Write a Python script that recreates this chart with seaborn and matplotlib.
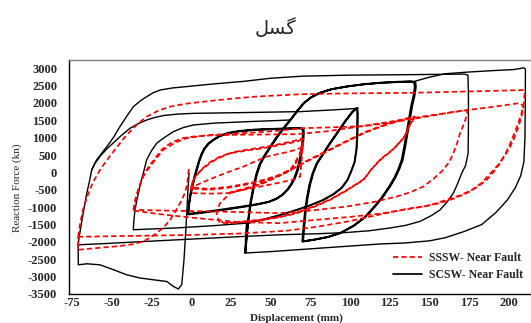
import numpy as np
import pandas as pd
import matplotlib
matplotlib.use("Agg")
import matplotlib.pyplot as plt
import seaborn as sns
from matplotlib.lines import Line2D
from matplotlib.font_manager import FontProperties

sns.set_theme(style="white")
plt.rcParams['font.family'] = ['Liberation Serif', 'DejaVu Sans']

# ---------------- text ----------------
TITLE = "\uFEDE\uFEB4\uFB94"   # گسل (presentation forms, visual order)
SSSW = "SSSW- Near Fault"
SCSW = "SCSW- Near Fault"
X_LABEL = "Displacement (mm)"
Y_LABEL = "Reaction Force (kn)"
X_TICKS = [-75, -50, -25, 0, 25, 50, 75, 100, 125, 150, 175, 200]
Y_TICKS = [-3500, -3000, -2500, -2000, -1500, -1000, -500, 0, 500, 1000, 1500, 2000, 2500, 3000]

# ---------------- SCSW (black) ----------------
scsw_pulse_disp = [-1.3, -2.1, -3.2, -4.5, -5.9, -8.0, -11.2, -15.3, -23.8, -32.2, -40.6, -49.0, -57.4, -65.7, -71.0, -71.2]
scsw_pulse_force = [-20, -590, -1560, -2515, -3230, -3357, -3282, -3140, -3090, -3040, -2946, -2800, -2660, -2630, -2660, -2080]

scsw_env1_disp = [-71.2, -70.3, -69.0, -67.3, -65.7, -64.0, -62.6, -61.0, -59.5, -56.5, -53.1, -49.0, -44.8, -40.5, -36.4,
                  -32.0, -28.0, -24.0, -19.6, -12.0, -4.0, 1.4, 15.0, 32.9, 50.0, 70.0, 100.0, 140.0, 172.0, 174.3,
                  174.6, 174.6, 174.4, 172.8, 170.4, 168.0, 165.1, 161.2, 156.7, 151.0, 144.1, 135.0, 125.2, 112.0,
                  97.8, 80.0, 55.7, 30.0, 0.0, -30.0, -55.0, -71.2]
scsw_env1_force = [-2080, -1800, -1450, -1000, -600, -250, 70, 230, 360, 540, 740, 1000, 1320, 1620, 1890,
                   2060, 2180, 2290, 2370, 2430, 2465, 2490, 2550, 2620, 2710, 2770, 2800, 2815, 2830, 2800,
                   2280, 1320, 550, 200, -20, -300, -600, -850, -1080, -1250, -1410, -1525, -1600, -1680,
                   -1730, -1765, -1795, -1850, -1920, -1990, -2050, -2084]

scsw_loop2_disp = [-36.4, -36.0, -35.3, -34.3, -33.2, -31.8, -30.1, -28.0, -25.0, -21.7, -17.0, -11.2, -5.0, 1.4,
                   15.0, 35.0, 55.0, 62.3]
scsw_loop2_force = [-1650, -1350, -1080, -820, -600, -300, -20, 360, 620, 840, 1000, 1173, 1290, 1365,
                    1420, 1460, 1495, 1509]

scsw_loop2b_disp = [-62.6, -60.5, -57.0, -53.0, -49.0, -44.0, -38.5, -33.0, -28.0, -23.0, -17.0, -8.0, 1.4, 30.0,
                    68.6, 90.0, 102.0, 104.3,
                    104.5, 104.4, 104.0, 102.8, 100.8, 98.2, 94.6, 89.5, 82.5, 74.5, 65.5, 55.5, 45.0, 35.0,
                    15.0, -10.0, -36.4]
scsw_loop2b_force = [70, 260, 480, 680, 850, 1060, 1270, 1410, 1509, 1580, 1640, 1680, 1700, 1720,
                     1750, 1800, 1835, 1844,
                     1780, 1200, 700, 300, 50, -220, -440, -620, -800, -950, -1090, -1230, -1360, -1460,
                     -1530, -1600, -1650]

scsw_loop3_disp = [-2.0, -1.3, -0.5, 0.6, 2.0, 3.5, 5.0, 6.6, 8.5, 11.0, 14.0, 18.0, 23.0, 30.0, 40.0, 52.0, 62.0, 68.6,
                   70.2, 70.4, 70.0, 69.2, 68.0, 66.6, 65.0, 63.0, 60.5, 57.5, 53.5, 48.5, 42.0, 34.0, 25.0, 16.0, 7.0, -1.8,
                   -1.4, -0.6, 0.5, 1.9, 3.4, 4.9, 6.5, 8.4, 11.0, 14.2, 18.3, 23.5, 30.5, 40.5, 52.5, 62.5, 69.0,
                   70.8, 71.0, 70.6, 69.8, 68.6, 67.2, 65.6, 63.6, 61.0, 58.0, 54.0, 49.0, 42.5, 34.5, 25.5, 16.5, 7.5, -1.5]
scsw_loop3_force = [-1200, -950, -700, -450, -200, 50, 300, 500, 680, 820, 930, 1040, 1120, 1180, 1220, 1245, 1258, 1265,
                    1245, 1120, 880, 600, 300, 50, -150, -330, -500, -640, -760, -850, -910, -970, -1030, -1090, -1145, -1190,
                    -900, -650, -400, -150, 100, 330, 530, 700, 840, 950, 1060, 1140, 1195, 1235, 1255, 1270, 1278,
                    1255, 1130, 890, 610, 310, 60, -140, -320, -490, -630, -755, -850, -915, -980, -1045, -1105, -1160, -1210]

scsw_loopxy_disp = [34.0, 34.8, 35.8, 37.2, 39.0, 41.0, 43.0, 46.0, 50.0, 54.0, 58.0, 62.3, 66.5, 70.7, 75.0, 81.0, 88.0,
                    98.0, 108.0, 119.0, 130.0, 138.0, 140.5,
                    140.8, 140.0, 138.5, 137.0, 135.5, 134.0, 132.5, 130.5, 128.0, 124.5, 120.0, 115.0, 109.0, 102.0,
                    94.0, 86.0, 77.0, 70.0,
                    70.5, 71.5, 72.8, 74.5, 76.5, 79.0, 82.5, 87.0, 92.0, 97.0, 101.0, 103.5, 104.5,
                    105.0, 104.8, 104.3, 103.0, 101.0, 98.5, 95.0, 90.0, 83.0, 75.0, 66.0, 56.0, 45.5, 38.0, 35.0, 34.4, 34.2,
                    35.0, 36.1, 37.6, 39.5, 41.6, 43.7, 46.8, 50.8, 54.8, 58.8, 63.0, 67.2, 71.4, 75.8, 81.8, 88.8,
                    98.8, 108.8, 119.8, 130.8, 138.8, 141.2,
                    141.5, 140.7, 139.2, 137.7, 136.2, 134.7, 133.2, 131.2, 128.7, 125.2, 120.7, 115.7, 109.7, 102.7,
                    94.7, 86.7, 77.7, 70.5,
                    71.0, 72.0, 73.3, 75.0, 77.0, 79.5, 83.0, 87.5, 92.5, 97.5, 101.5, 104.0, 105.0]
scsw_loopxy_force = [-2320, -1900, -1400, -900, -450, -50, 230, 480, 760, 1030, 1270, 1509, 1760, 1988, 2150, 2290, 2390,
                     2470, 2530, 2575, 2600, 2612, 2590,
                     2450, 2200, 1900, 1500, 1100, 700, 350, 100, -150, -420, -720, -1000, -1300, -1540,
                     -1740, -1860, -1940, -1990,
                     -1700, -1200, -750, -350, -20, 260, 500, 820, 1150, 1480, 1720, 1830, 1840,
                     1700, 1200, 700, 300, 50, -220, -440, -620, -800, -950, -1090, -1230, -1360, -1430, -1470, -1900, -2300,
                     -1880, -1380, -880, -430, -30, 250, 500, 780, 1050, 1290, 1530, 1780, 2005, 2165, 2300, 2400,
                     2480, 2540, 2585, 2610, 2622, 2600,
                     2460, 2210, 1910, 1510, 1110, 710, 360, 110, -140, -410, -710, -990, -1290, -1530,
                     -1735, -1855, -1935, -1985,
                     -1690, -1190, -740, -340, -10, 270, 510, 830, 1160, 1490, 1730, 1840, 1850]

scsw_env2_disp = [140.5, 150.0, 160.0, 175.0, 190.0, 203.0, 207.0, 209.5, 210.5, 210.4, 210.2, 209.5, 207.5, 204.0,
                  199.0, 192.0, 183.0, 172.0, 160.0, 150.0, 135.0, 119.0, 100.0, 75.0, 50.0, 34.0]
scsw_env2_force = [2620, 2740, 2840, 2890, 2930, 2960, 2990, 3010, 2970, 2000, 1000, 300, -100, -450,
                   -800, -1150, -1500, -1700, -1880, -1970, -2030, -2060, -2120, -2200, -2280, -2320]

# ---------------- SSSW (red) ----------------
sssw_pulse_disp = [-1.5, -2.0, -2.8, -4.5, -7.0, -10.0, -13.3, -17.0, -21.7, -26.0, -30.1, -37.0, -45.0, -60.0, -71.0, -71.2]
sssw_pulse_force = [100, -150, -408, -650, -886, -1130, -1365, -1570, -1747, -1880, -1988, -2070, -2120, -2180, -2227, -1853]

sssw_env_disp = [-71.2, -70.0, -68.1, -65.5, -62.0, -57.0, -51.0, -45.5, -40.6, -34.0, -28.0, -21.0, -13.5, -3.0, 7.7,
                 25.0, 40.0, 68.6, 100.0, 138.0, 175.0, 209.0,
                 210.0, 209.5, 208.0, 206.0, 203.5, 201.0, 198.0, 194.5, 190.5, 186.1, 180.0, 173.5, 165.0, 156.7,
                 146.0, 135.7, 120.0, 100.0, 80.0, 60.0, 30.0, 0.0, -40.0, -71.2]
sssw_env_force = [-1853, -1500, -1078, -700, -300, 100, 480, 800, 1080, 1380, 1604, 1770, 1891, 1980, 2035,
                  2120, 2180, 2250, 2275, 2290, 2330, 2370,
                  2300, 2000, 1700, 1420, 1126, 839, 550, 264, 20, -215, -420, -598, -760, -886,
                  -980, -1050, -1200, -1400, -1560, -1680, -1760, -1800, -1830, -1853]

sssw_loop3a_disp = [-36.4, -35.0, -33.0, -30.0, -25.9, -21.5, -17.5, -10.0, -2.8, 5.0, 12.0, 25.0, 40.0, 55.0, 68.6,
                    90.0, 108.5, 125.0, 140.0, 155.0, 165.0, 173.5,
                    174.0, 172.0, 169.3, 167.3, 165.1, 162.5, 158.8, 153.0, 146.2, 138.0, 129.4, 115.0, 97.8, 75.0,
                    55.7, 20.0, -15.0, -36.4]
sssw_loop3a_force = [-1078, -750, -450, -100, 167, 430, 647, 860, 983, 1040, 1078, 1110, 1150, 1200, 1270,
                     1300, 1330, 1430, 1540, 1660, 1740, 1796,
                     1700, 1420, 1126, 820, 552, 300, 72, -170, -408, -570, -695, -850, -983, -1100,
                     -1173, -1130, -1100, -1078]

sssw_loop3b_disp = [-36.0, -35.0, -33.0, -30.0, -27.0, -22.0, -18.0, -12.0, -5.0, 3.0, 10.0, 24.5, 45.0, 66.5, 85.0,
                    100.0, 120.0, 138.0, 155.0, 175.0, 192.0, 207.0,
                    209.2, 208.0, 206.0, 203.5, 200.5, 197.0, 193.0, 188.0, 183.0, 177.0, 170.0, 160.0, 150.0, 135.0,
                    120.0, 100.0, 80.0, 55.7, 30.0, 0.0, -20.0, -36.0]
sssw_loop3b_force = [-1100, -800, -450, -100, 150, 450, 680, 870, 990, 1040, 1060, 1080, 1090, 1100, 1180,
                     1280, 1420, 1557, 1670, 1800, 1900, 1995,
                     1900, 1600, 1300, 1000, 700, 450, 200, -50, -300, -500, -650, -800, -950, -1070,
                     -1180, -1280, -1360, -1460, -1430, -1300, -1200, -1100]

sssw_loop2_disp = [24.5, 35.0, 45.5, 56.0, 66.5, 77.0, 87.5, 98.0, 108.5, 119.0, 129.5, 135.0, 138.0, 140.0, 139.5,
                   138.0, 134.0, 127.0, 119.0, 113.0, 108.5, 98.0, 87.5, 77.0, 66.5, 56.0, 45.5, 35.0, 24.5,
                   18.0, 16.0, 18.0, 25.0,
                   35.5, 46.0, 56.5, 67.0, 77.5, 88.0, 98.5, 109.0, 119.5, 130.0, 135.5, 138.5, 140.5, 140.0,
                   138.5, 134.5, 127.5, 119.5, 113.5, 109.0, 98.5, 88.0, 77.5, 67.0, 56.5, 46.0, 35.5, 25.0, 19.0]
sssw_loop2_force = [-598, -470, -311, -90, 167, 410, 647, 890, 1126, 1310, 1462, 1530, 1557, 1580, 1480,
                    1414, 1000, 650, 359, 60, -215, -520, -790, -1000, -1173, -1290, -1365, -1420, -1460,
                    -1450, -1200, -900, -570,
                    -440, -280, -60, 200, 440, 680, 920, 1150, 1335, 1485, 1555, 1580, 1610, 1500,
                    1440, 1030, 680, 390, 90, -190, -495, -765, -975, -1150, -1270, -1345, -1400, -1440, -1430]

sssw_loop1_disp = [0, 1.4, 8, 16, 24, 33, 40, 47.6, 54, 60, 65, 68.6, 70.5, 70, 69.5, 68.6, 65, 60, 52, 43.4, 33, 22.4, 12, 1.4, 0,
                   0.5, 2.5, 5, 8, 12, 18, 24.5, 35, 45.5, 56, 66.5, 70, 70.5, 69.5, 68, 65, 62.3, 55, 45.5, 35, 24.5, 16, 10, 0,
                   1, 3, 6, 10, 14, 20, 26, 36, 46, 56, 66, 70.2, 70.8, 70, 68.5, 65.5, 62.8, 55, 46, 36, 25, 16, 10, 0]
sssw_loop1_force = [-550, -408, -270, -120, 20, 167, 310, 455, 520, 580, 640, 700, 760, 650, 300, -120, -200, -250, -330, -408, -500, -598, -610, -598, -560,
                    -300, -150, 0, 150, 300, 450, 552, 630, 695, 790, 886, 950, 880, 700, 500, 250, 72, -80, -215, -320, -408, -450, -470, -430,
                    -250, -100, 50, 200, 330, 470, 580, 660, 730, 820, 920, 980, 900, 700, 480, 230, 50, -100, -240, -340, -430, -480, -500, -460]

# ---------------- assemble ----------------
segments = [
    (SCSW, "b_pulse", scsw_pulse_disp, scsw_pulse_force),
    (SCSW, "b_env1", scsw_env1_disp, scsw_env1_force),
    (SCSW, "b_loop2", scsw_loop2_disp, scsw_loop2_force),
    (SCSW, "b_loop2b", scsw_loop2b_disp, scsw_loop2b_force),
    (SCSW, "b_loop3", scsw_loop3_disp, scsw_loop3_force),
    (SCSW, "b_loopxy", scsw_loopxy_disp, scsw_loopxy_force),
    (SCSW, "b_env2", scsw_env2_disp, scsw_env2_force),
    (SSSW, "r_pulse", sssw_pulse_disp, sssw_pulse_force),
    (SSSW, "r_env", sssw_env_disp, sssw_env_force),
    (SSSW, "r_loop3a", sssw_loop3a_disp, sssw_loop3a_force),
    (SSSW, "r_loop3b", sssw_loop3b_disp, sssw_loop3b_force),
    (SSSW, "r_loop2", sssw_loop2_disp, sssw_loop2_force),
    (SSSW, "r_loop1", sssw_loop1_disp, sssw_loop1_force),
]
THICK = {"b_loop3", "b_loopxy"}
rows = []
for series, seg, xs, ys in segments:
    assert len(xs) == len(ys), seg
    for i, (x, y) in enumerate(zip(xs, ys)):
        rows.append({"series": series, "seg": seg, "i": i, "disp": x, "force": y})
df = pd.DataFrame(rows)

fig = plt.figure(figsize=(5.31, 3.23), dpi=100)
ax = fig.add_axes([69 / 531, 1 - 294 / 323, 1 - 69 / 531, (294 - 59.5) / 323])

black = df[df.series == SCSW]
sns.lineplot(data=black[~black.seg.isin(THICK)], x="disp", y="force", units="seg", estimator=None, sort=False,
             color="black", linewidth=1.0, ax=ax, legend=False)
sns.lineplot(data=black[black.seg.isin(THICK)], x="disp", y="force", units="seg", estimator=None, sort=False,
             color="black", linewidth=1.35, ax=ax, legend=False)
n_black = len(ax.get_lines())
sns.lineplot(data=df[df.series == SSSW], x="disp", y="force", units="seg", estimator=None, sort=False,
             color="red", linewidth=1.25, ax=ax, legend=False)
for ln in ax.get_lines()[n_black:]:
    ln.set_linestyle((0, (3, 1.8)))

ax.set_xlim(-76.9, 214)
ax.set_ylim(-3500, 3250)
ax.set_xticks(X_TICKS)
ax.set_yticks(Y_TICKS)
tick_font = dict(family="Liberation Serif", weight="bold", size=9)
ax.set_xticklabels([str(v) for v in X_TICKS], **tick_font)
ax.set_yticklabels([str(v) for v in Y_TICKS], **tick_font)
ax.tick_params(axis="both", length=0)
ax.tick_params(axis="y", pad=8.5)
ax.tick_params(axis="x", pad=2.5)
ax.set_xlabel("")
ax.set_ylabel("")
for s in ["left", "bottom"]:
    ax.spines[s].set_color("black")
    ax.spines[s].set_linewidth(1.0)
ax.spines["right"].set_visible(False)
ax.spines["top"].set_color("#808080")
ax.spines["top"].set_linewidth(1.0)
ax.grid(False)

fig.text(275 / 531, 1 - 28 / 323, TITLE, family="DejaVu Sans", fontsize=14, ha="center", va="center")
fig.text(17 / 531, 1 - 187.5 / 323, Y_LABEL, family="Liberation Serif", fontsize=8, rotation=90,
         ha="center", va="center")
fig.text(296 / 531, 1 - 318 / 323, X_LABEL, family="Liberation Serif", weight="bold", fontsize=8,
         ha="center", va="center")

handles = [Line2D([0], [0], color="red", lw=1.25, linestyle=(0, (3, 1.8))),
           Line2D([0], [0], color="black", lw=1.25)]
fig.legend(handles, [SSSW, SCSW], loc="upper left", bbox_to_anchor=(393 / 531, 1 - 252 / 323),
           frameon=False, prop=FontProperties(family="Liberation Serif", weight="bold", size=8.5),
           handlelength=2.45, handletextpad=0.6, labelspacing=0.4, borderpad=0, borderaxespad=0)

fig.savefig("out.png", dpi=100)
